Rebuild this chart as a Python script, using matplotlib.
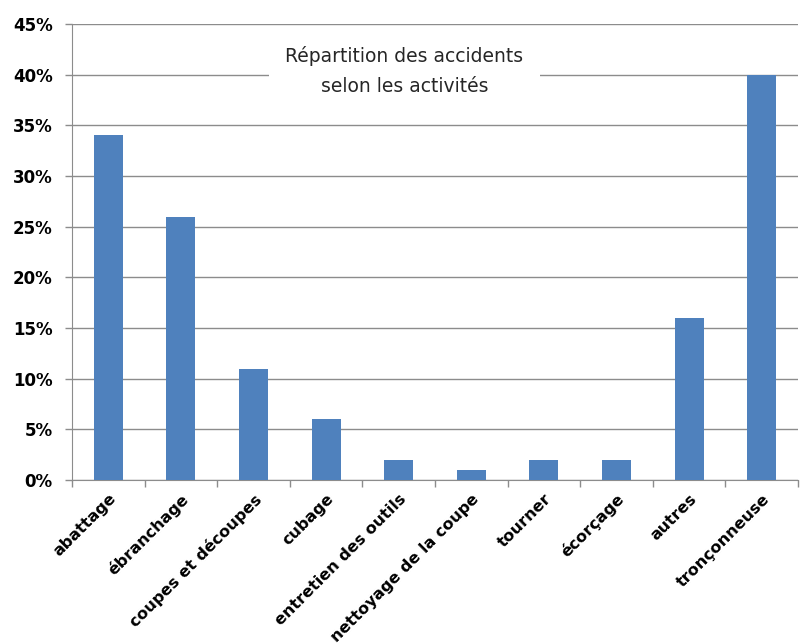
import matplotlib.pyplot as plt
import numpy as np
from matplotlib.ticker import FixedLocator, PercentFormatter

categories = ['abattage', 'ébranchage', 'coupes et découpes', 'cubage',
              'entretien des outils', 'nettoyage de la coupe', 'tourner',
              'écorçage', 'autres', 'tronçonneuse']
values = [34, 26, 11, 6, 2, 1, 2, 2, 16, 40]
yticks = [0, 5, 10, 15, 20, 25, 30, 35, 40, 45]

grey = '#8c8c8c'
fig = plt.figure(figsize=(8, 6.44), dpi=100)
ax = fig.add_axes([0.09, 0.2547, 0.9075, 0.708])

x = np.arange(len(categories))
ax.bar(x, values, width=0.4, color='#4f81bd', zorder=3)

ax.set_xlim(-0.5, len(categories) - 0.5)
ax.set_ylim(0, 45)
ax.set_yticks(yticks)
ax.yaxis.set_major_formatter(PercentFormatter(decimals=0))
ax.grid(axis='y', color=grey, linewidth=1, zorder=0)

ax.set_xticks(x)
ax.set_xticklabels(categories, rotation=45, ha='right', rotation_mode='anchor',
                   fontsize=11.5, fontweight='bold')
ax.tick_params(axis='x', which='major', length=0, pad=8)
ax.xaxis.set_minor_locator(FixedLocator(np.arange(-0.5, len(categories), 1)))
ax.tick_params(axis='x', which='minor', length=5, color=grey, width=1)
ax.tick_params(axis='y', length=5, color=grey, width=1, labelsize=12, pad=9)
for lab in ax.get_yticklabels():
    lab.set_fontweight('bold')

for s in ['top', 'right']:
    ax.spines[s].set_visible(False)
for s in ['left', 'bottom']:
    ax.spines[s].set_color(grey)

ax.text(0.458, 0.897, 'Répartition des accidents\nselon les activités',
        transform=ax.transAxes, ha='center', va='center', fontsize=13.5,
        linespacing=1.75, color='#262626', zorder=5,
        bbox=dict(facecolor='white', edgecolor='none', pad=12))

fig.savefig('out.png')
